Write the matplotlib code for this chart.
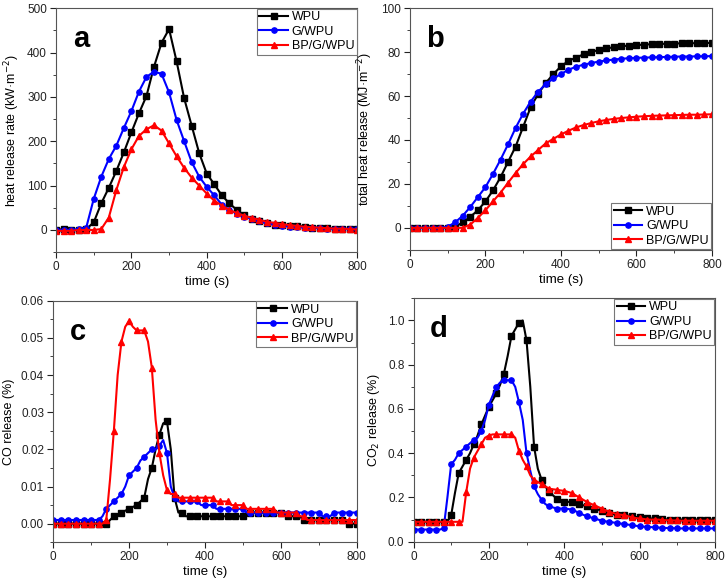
import numpy as np
import matplotlib
matplotlib.use("Agg")
import matplotlib.pyplot as plt
from matplotlib.ticker import MultipleLocator, FormatStrFormatter

plt.rcParams['font.family'] = ['Liberation Sans', 'DejaVu Sans']

labels = ["WPU", "G/WPU", "BP/G/WPU"]
colors = ["black", "blue", "red"]
markers = ["s", "o", "^"]

# panel a, b: one point every 20 s
t20 = list(range(0, 801, 20))
hrr_wpu = [0, 2, 0, 0, 2, 17, 60, 95, 133, 175, 220, 263, 302, 368, 422, 453, 380, 297, 235, 173,
           127, 103, 78, 60, 45, 33, 25, 20, 15, 12, 12, 10, 10, 7, 5, 5, 5, 3, 3, 2, 2]
hrr_gwpu = [0, 0, 0, 2, 5, 70, 120, 160, 190, 230, 268, 312, 345, 357, 352, 310, 248, 200, 153, 120,
            97, 78, 57, 45, 37, 30, 25, 20, 15, 12, 10, 7, 7, 5, 5, 5, 3, 3, 3, 2, 3]
hrr_bp = [-2, -2, -2, 0, 0, 0, 2, 28, 90, 142, 182, 212, 227, 236, 224, 195, 166, 140, 118, 100,
          82, 66, 55, 45, 38, 32, 27, 23, 18, 16, 13, 11, 9, 7, 6, 5, 4, 3, 3, 2, 1]

thr_wpu = [0, 0, 0, 0, 0, 0, 0.5, 2.5, 5, 8, 12, 17, 23, 30, 37, 46, 55, 61, 66, 70,
           73.5, 76, 77.5, 79, 80, 81, 81.7, 82.2, 82.6, 83, 83.2, 83.4, 83.6, 83.7, 83.8, 83.9,
           84, 84, 84.1, 84.1, 84.2]
thr_gwpu = [0, 0, 0, 0, 0, 0.5, 2.5, 5.5, 9.5, 14, 18.5, 24.5, 31, 38, 45.5, 52, 57.5, 62, 65.5, 68,
            70, 72, 73.3, 74.3, 75, 75.7, 76.2, 76.6, 77, 77.2, 77.4, 77.5, 77.6, 77.7, 77.8, 77.9,
            78, 78, 78.1, 78.1, 78.2]
thr_bp = [0, 0, 0, 0, 0, 0, 0, 0, 1.5, 4.5, 8, 12, 16, 20.5, 25, 29, 32.5, 35.5, 38.5, 40.5,
          42.5, 44.2, 45.7, 46.8, 47.7, 48.5, 49.1, 49.6, 50, 50.3, 50.6, 50.8, 51, 51.1, 51.2, 51.3,
          51.4, 51.5, 51.5, 51.6, 51.7]

# panel c, d: one point every 10 s
t10 = list(range(0, 801, 10))
co_wpu = [0, 0, 0, 0, 0, 0, 0, 0, 0, 0, 0, 0, 0, 0, 0, 0.001, 0.002, 0.0025, 0.003, 0.0035,
          0.004, 0.0045, 0.005, 0.006, 0.007, 0.012, 0.015, 0.02, 0.024, 0.027, 0.0275, 0.02, 0.007,
          0.003, 0.003, 0.002, 0.002, 0.002, 0.002, 0.002, 0.002, 0.002, 0.002, 0.002, 0.002, 0.002,
          0.002, 0.002, 0.002, 0.002, 0.002, 0.003, 0.003, 0.003, 0.003, 0.003, 0.003, 0.003, 0.003,
          0.003, 0.003, 0.003, 0.002, 0.002, 0.002, 0.002, 0.001, 0.001, 0.001, 0.001, 0.001, 0.001,
          0.001, 0.001, 0.001, 0.001, 0.001, 0.001, 0.0, 0.0, 0.0]
co_gwpu = [0.001, 0.001, 0.001, 0.001, 0.001, 0.001, 0.001, 0.001, 0.001, 0.001, 0.001, 0.001, 0.001,
           0.002, 0.004, 0.005, 0.006, 0.007, 0.008, 0.010, 0.013, 0.014, 0.015, 0.017, 0.018, 0.019,
           0.020, 0.020, 0.021, 0.0225, 0.019, 0.010, 0.007, 0.006, 0.006, 0.006, 0.006, 0.006, 0.006,
           0.005, 0.005, 0.005, 0.005, 0.004, 0.004, 0.004, 0.004, 0.004, 0.004, 0.004, 0.004, 0.003,
           0.003, 0.003, 0.003, 0.003, 0.003, 0.003, 0.003, 0.003, 0.003, 0.003, 0.003, 0.003, 0.003,
           0.003, 0.003, 0.003, 0.003, 0.003, 0.003, 0.002, 0.002, 0.002, 0.003, 0.003, 0.003, 0.003,
           0.003, 0.003, 0.003]
co_bp = [0, 0, 0, 0, 0, 0, 0, 0, 0, 0, 0, 0, 0, 0, 0.001, 0.012, 0.025, 0.040, 0.049, 0.053,
         0.0545, 0.053, 0.052, 0.052, 0.052, 0.049, 0.042, 0.028, 0.019, 0.013, 0.009, 0.008, 0.008,
         0.007, 0.007, 0.007, 0.007, 0.007, 0.007, 0.007, 0.007, 0.007, 0.007, 0.006, 0.006, 0.006,
         0.006, 0.005, 0.005, 0.005, 0.005, 0.004, 0.004, 0.004, 0.004, 0.004, 0.004, 0.004, 0.004,
         0.003, 0.003, 0.003, 0.003, 0.003, 0.003, 0.002, 0.002, 0.001, 0.001, 0.001, 0.001, 0.001,
         0.001, 0.001, 0.001, 0.001, 0.001, 0.001, 0.001, 0.001, 0.001]

co2_wpu = [0.09, 0.09, 0.09, 0.09, 0.09, 0.09, 0.09, 0.09, 0.09, 0.09, 0.12, 0.22, 0.31, 0.34, 0.37,
           0.40, 0.44, 0.48, 0.53, 0.57, 0.61, 0.64, 0.67, 0.71, 0.76, 0.84, 0.93, 0.96, 0.99, 1.0,
           0.91, 0.70, 0.43, 0.33, 0.28, 0.25, 0.225, 0.21, 0.195, 0.185, 0.18, 0.18, 0.18, 0.175,
           0.17, 0.165, 0.16, 0.155, 0.15, 0.145, 0.14, 0.135, 0.13, 0.125, 0.12, 0.12, 0.12, 0.118,
           0.115, 0.112, 0.11, 0.108, 0.105, 0.105, 0.105, 0.103, 0.102, 0.101, 0.1, 0.1, 0.1, 0.1,
           0.1, 0.1, 0.1, 0.1, 0.1, 0.1, 0.1, 0.1, 0.1]
co2_gwpu = [0.055, 0.055, 0.055, 0.055, 0.055, 0.055, 0.055, 0.055, 0.06, 0.2, 0.35, 0.37, 0.40,
            0.415, 0.43, 0.445, 0.46, 0.47, 0.50, 0.55, 0.62, 0.66, 0.70, 0.72, 0.73, 0.73, 0.73,
            0.70, 0.63, 0.55, 0.40, 0.32, 0.25, 0.215, 0.19, 0.17, 0.16, 0.155, 0.15, 0.15, 0.15,
            0.148, 0.145, 0.138, 0.13, 0.122, 0.115, 0.11, 0.105, 0.1, 0.095, 0.092, 0.09, 0.087,
            0.085, 0.082, 0.08, 0.077, 0.075, 0.072, 0.07, 0.068, 0.067, 0.066, 0.065, 0.064, 0.063,
            0.062, 0.062, 0.061, 0.061, 0.06, 0.06, 0.06, 0.06, 0.06, 0.06, 0.06, 0.06, 0.06, 0.06]
co2_bp = [0.09, 0.09, 0.09, 0.09, 0.09, 0.09, 0.09, 0.09, 0.09, 0.09, 0.09, 0.09, 0.09, 0.09, 0.225,
          0.33, 0.38, 0.41, 0.44, 0.47, 0.48, 0.485, 0.485, 0.485, 0.485, 0.485, 0.485, 0.47, 0.41,
          0.37, 0.34, 0.30, 0.28, 0.27, 0.26, 0.25, 0.24, 0.237, 0.235, 0.232, 0.23, 0.225, 0.22,
          0.21, 0.2, 0.19, 0.18, 0.172, 0.165, 0.157, 0.15, 0.142, 0.135, 0.13, 0.125, 0.122, 0.12,
          0.115, 0.11, 0.107, 0.105, 0.103, 0.1, 0.1, 0.1, 0.1, 0.098, 0.097, 0.097, 0.096, 0.096,
          0.095, 0.095, 0.095, 0.095, 0.095, 0.095, 0.095, 0.095, 0.095, 0.095]

fig = plt.figure(figsize=(7.28, 5.85), dpi=100)

ax_a = fig.add_axes([0.077, 0.569, 0.414, 0.417])
ax_b = fig.add_axes([0.563, 0.573, 0.415, 0.413])
ax_c = fig.add_axes([0.073, 0.073, 0.417, 0.413])
ax_d = fig.add_axes([0.568, 0.074, 0.414, 0.416])


def draw(ax, t, series, every, ylabel, ylim, ymajor, yfmt, letter, legend_loc):
    for y, lab, col, mk in zip(series, labels, colors, markers):
        ax.plot(t, y, color=col, marker=mk, markersize=3.8, lw=1.5, markevery=every, label=lab)
    ax.set_xlim(0, 800)
    ax.set_ylim(*ylim)
    ax.xaxis.set_major_locator(MultipleLocator(200))
    ax.xaxis.set_minor_locator(MultipleLocator(100))
    ax.yaxis.set_major_locator(MultipleLocator(ymajor))
    ax.yaxis.set_minor_locator(MultipleLocator(ymajor / 2))
    ax.yaxis.set_major_formatter(FormatStrFormatter(yfmt))
    ax.tick_params(which="both", direction="out", labelsize=8.5, colors="#222222", pad=2.5)
    ax.tick_params(which="major", length=4)
    ax.tick_params(which="minor", length=2)
    for sp in ax.spines.values():
        sp.set_color("#555555")
    ax.set_xlabel("time (s)", fontsize=9.5, labelpad=2)
    ax.set_ylabel(ylabel, fontsize=9, labelpad=4)
    ax.text(0.055, 0.93, letter, transform=ax.transAxes, fontsize=21, fontweight="bold",
            va="top", ha="left")
    leg = ax.legend(loc=legend_loc, fontsize=9, fancybox=False, framealpha=1,
                    handlelength=2.3, handletextpad=0.3, borderpad=0.2, labelspacing=0.2,
                    borderaxespad=0.05)
    leg.get_frame().set_edgecolor("#777777")
    leg.get_frame().set_linewidth(0.8)


draw(ax_a, t20, [hrr_wpu, hrr_gwpu, hrr_bp], 1, "heat release rate (kW·m$^{-2}$)",
     (-50, 500), 100, "%d", "a", "upper right")
draw(ax_b, t20, [thr_wpu, thr_gwpu, thr_bp], 1, "total heat release (MJ·m$^{-2}$)",
     (-10, 100), 20, "%d", "b", "lower right")
draw(ax_c, t10, [co_wpu, co_gwpu, co_bp], 2, "CO release (%)",
     (-0.005, 0.06), 0.01, "%.2f", "c", "upper right")
draw(ax_d, t10, [co2_wpu, co2_gwpu, co2_bp], 2, "CO$_2$ release (%)",
     (0, 1.1), 0.2, "%.1f", "d", "upper right")

fig.savefig("out.png", dpi=100)
